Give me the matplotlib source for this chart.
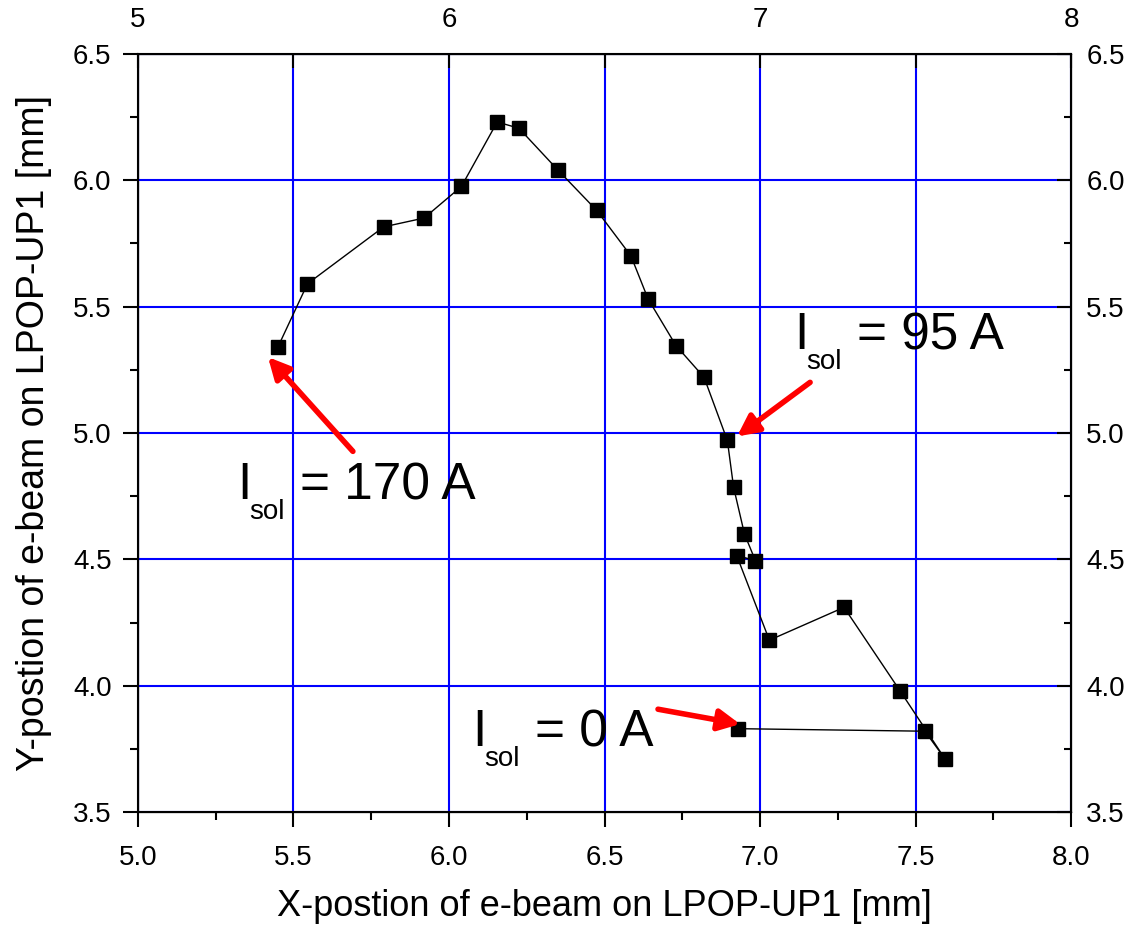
import matplotlib
matplotlib.use('Agg')
import matplotlib.pyplot as plt
from matplotlib.ticker import MultipleLocator, FormatStrFormatter
from matplotlib.transforms import offset_copy

plt.rcParams['font.family'] = ['Liberation Sans', 'DejaVu Sans']

# posicion del haz para cada corriente del solenoide (de 0 A a 170 A)
x_pos = [6.93, 7.53, 7.595, 7.45, 7.27, 7.03, 6.925, 6.985, 6.95, 6.915, 6.895,
         6.82, 6.73, 6.64, 6.585, 6.475, 6.35, 6.225, 6.155, 6.04, 5.92, 5.79,
         5.545, 5.45]
y_pos = [3.83, 3.82, 3.71, 3.98, 4.31, 4.18, 4.515, 4.495, 4.60, 4.785, 4.97,
         5.22, 5.345, 5.53, 5.70, 5.88, 6.04, 6.205, 6.23, 5.975, 5.85, 5.815,
         5.59, 5.34]

# etiquetas: corriente, posicion del texto, cola y punta de la flecha
etiquetas = ['170', '95', '0']
texto_xy = [(5.318, 4.737), (7.109, 5.330), (6.074, 3.761)]
flecha_cola = [(5.691, 4.927), (7.161, 5.200), (6.672, 3.907)]
flecha_punta = [(5.418, 5.300), (6.926, 4.986), (6.936, 3.848)]

fig = plt.figure(figsize=(11.31, 9.26), dpi=100)
ax = fig.add_axes([0.122, 0.123, 0.825, 0.819])

ax.plot(x_pos, y_pos, color='black', lw=1.0, marker='s', ms=10.5,
        markerfacecolor='black', markeredgecolor='black', zorder=3)

ax.set_xlim(5.0, 8.0)
ax.set_ylim(3.5, 6.5)
ax.xaxis.set_major_locator(MultipleLocator(0.5))
ax.xaxis.set_minor_locator(MultipleLocator(0.25))
ax.yaxis.set_major_locator(MultipleLocator(0.5))
ax.yaxis.set_minor_locator(MultipleLocator(0.25))
ax.xaxis.set_major_formatter(FormatStrFormatter('%.1f'))
ax.yaxis.set_major_formatter(FormatStrFormatter('%.1f'))
ax.grid(True, which='major', color='#0000ff', lw=1.5, zorder=1)
ax.set_axisbelow(True)

for s in ax.spines.values():
    s.set_linewidth(1.5)

ax.tick_params(which='major', direction='out', length=11, width=1.5,
               labelsize=20)
ax.tick_params(which='minor', direction='out', length=6, width=1.5)
ax.tick_params(axis='x', which='major', pad=13)
ax.tick_params(axis='y', which='major', pad=8)

# eje derecho con las mismas marcas
axr = ax.twinx()
axr.set_ylim(ax.get_ylim())
axr.yaxis.set_major_locator(MultipleLocator(0.5))
axr.yaxis.set_minor_locator(MultipleLocator(0.25))
axr.yaxis.set_major_formatter(FormatStrFormatter('%.1f'))
axr.tick_params(which='major', direction='in', length=10, width=1.5, labelsize=20, pad=11)
axr.tick_params(which='minor', direction='in', length=5, width=1.5)

# eje superior con enteros
axt = ax.twiny()
axt.set_xlim(ax.get_xlim())
axt.xaxis.set_major_locator(MultipleLocator(1))
axt.xaxis.set_minor_locator(MultipleLocator(0.5))
axt.xaxis.set_major_formatter(FormatStrFormatter('%d'))
axt.tick_params(which='major', direction='in', length=10, width=1.5, labelsize=20, pad=15)
axt.tick_params(which='minor', direction='in', length=10, width=1.5)

ax.set_xlabel('X-postion of e-beam on LPOP-UP1 [mm]', fontsize=26, labelpad=13)
ax.set_ylabel('Y-postion of e-beam on LPOP-UP1 [mm]', fontsize=27, labelpad=15)

for lab, (tx, ty), cola, punta in zip(etiquetas, texto_xy, flecha_cola, flecha_punta):
    ax.annotate('', xy=punta, xytext=cola,
                arrowprops=dict(arrowstyle='-|>', color='red', lw=4,
                                mutation_scale=32, shrinkA=0, shrinkB=0),
                zorder=4)
    ax.text(tx, ty, 'I', fontsize=37, va='baseline', ha='left', zorder=5)
    tr_sub = offset_copy(ax.transData, fig=fig, x=12, y=-20, units='dots')
    ax.text(tx, ty, 'sol', fontsize=20, va='baseline', ha='left',
            transform=tr_sub, zorder=5)
    tr_val = offset_copy(ax.transData, fig=fig, x=63, y=0, units='dots')
    ax.text(tx, ty, '= ' + lab + ' A', fontsize=37, va='baseline', ha='left',
            transform=tr_val, zorder=5)

fig.savefig('out.png', dpi=100)
